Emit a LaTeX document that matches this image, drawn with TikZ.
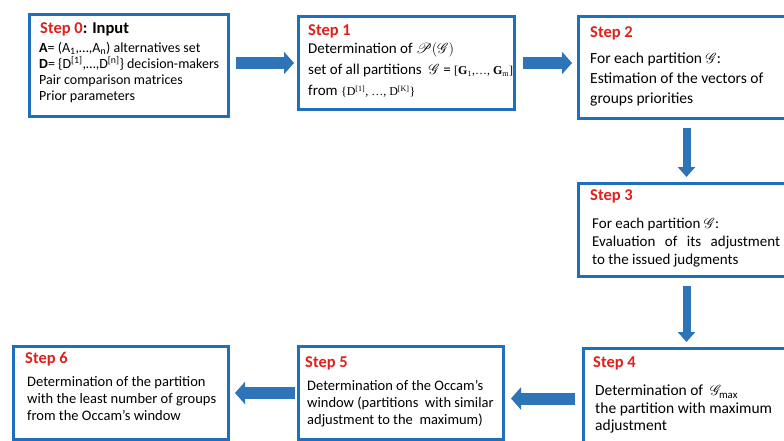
\documentclass[tikz,border=0pt]{standalone}
\usepackage{fontspec}
\setmainfont{Carlito}
\newfontfamily\setfont{Liberation Serif}
\usepackage{mathrsfs}
\usetikzlibrary{arrows.meta,positioning}

\definecolor{boxblue}{HTML}{1F6FBF}
\definecolor{arrowblue}{HTML}{2E74B8}
\definecolor{stepred}{HTML}{E0201B}

\tikzset{
  stepbox/.style={draw=boxblue, line width=3pt, fill=white, anchor=north west, inner sep=0pt},
  steplabel/.style={anchor=north west, inner sep=0pt, font=\fontsize{16.5}{19}\selectfont\bfseries, text=stepred},
  steptext/.style={anchor=north west, align=left, inner sep=0pt},
  flow/.style={draw=arrowblue, line width=12pt, -{Triangle[length=10pt,width=22pt]}},
  flowdown/.style={draw=arrowblue, line width=8pt, -{Triangle[length=10pt,width=17pt]}}
}
\newcommand{\serifset}[1]{{\setfont\fontsize{12}{14}\selectfont #1}}

\begin{document}
\begin{tikzpicture}[x=1pt, y=-1pt]

    % --- Page ---
    \clip (0,0) rectangle (784,441);
    \fill[white] (0,0) rectangle (784,441);

    % --- Step boxes ---
    \node[stepbox, minimum width=199pt, minimum height=102pt] (b0) at (28,13) {};
    \node[stepbox, minimum width=216pt, minimum height=93pt] (b1) at (297,15) {};
    \node[stepbox, minimum width=216pt, minimum height=102pt] (b2) at (577,15) {};
    \node[stepbox, minimum width=216pt, minimum height=93pt] (b3) at (577,182) {};
    \node[stepbox, minimum width=216pt, minimum height=100pt] (b4) at (582,347) {};
    \node[stepbox, minimum width=205pt, minimum height=93pt] (b5) at (297,345) {};
    \node[stepbox, minimum width=215pt, minimum height=93pt] (b6) at (12,345) {};

    % --- Step 0: input ---
    \node[steplabel] (l0) at (40,22) {Step 0\textcolor{black}{: Input}};
    \node[steptext, font=\fontsize{14}{16}\selectfont] (t0) at (39,42)
      {\textbf{A}= (A\textsubscript{1},\ldots,A\textsubscript{n}) alternatives set\\
       \textbf{D}= \{D\textsuperscript{[1]},\ldots,D\textsuperscript{[n]}\} decision-makers\\
       Pair comparison matrices\\
       Prior parameters};

    % --- Step 1 ---
    \node[steplabel] (l1) at (308,24) {Step 1};
    \node[steptext, font=\fontsize{15}{21}\selectfont] (t1) at (308,43)
      {Determination of $\mathscr{P}(\mathscr{G})$\\
       set of all partitions \ $\mathscr{G}$ = \serifset{[\textbf{G}\textsubscript{1},\ldots, \textbf{G}\textsubscript{m}]}\\
       from \serifset{\{D\textsuperscript{[1]}, \ldots, D\textsuperscript{[K]}\}}};

    % --- Step 2 ---
    \node[steplabel] (l2) at (590,26) {Step 2};
    \node[steptext, font=\fontsize{15.5}{20}\selectfont] (t2) at (590,53)
      {For each partition $\mathscr{G}$:\\
       Estimation of the vectors of\\
       groups priorities};

    % --- Step 3 ---
    \node[steplabel] (l3) at (590,189) {Step 3};
    \node[steptext, font=\fontsize{15}{18}\selectfont] (t3) at (592,218)
      {For each partition $\mathscr{G}$:\\
       \makebox[188pt][s]{Evaluation of its adjustment}\\
       to the issued judgments};

    % --- Step 4 ---
    \node[steplabel] (l4) at (593,356) {Step 4};
    \node[steptext, font=\fontsize{15.5}{17.5}\selectfont] (t4) at (595,385)
      {Determination of \ $\mathscr{G}_{\max}$\\
       the partition with maximum\\
       adjustment};

    % --- Step 5 ---
    \node[steplabel] (l5) at (305,356) {Step 5};
    \node[steptext, font=\fontsize{14.5}{17}\selectfont] (t5) at (307,380)
      {Determination of the Occam's\\
       window (partitions \ with similar\\
       adjustment to the \ maximum)};

    % --- Step 6 ---
    \node[steplabel] (l6) at (25,352) {Step 6};
    \node[steptext, font=\fontsize{14.5}{17}\selectfont] (t6) at (27,376)
      {Determination of the partition\\
       with the least number of groups\\
       from the Occam's window};

    % --- Flow arrows ---
    \draw[flow, shorten <=6pt, shorten >=3pt] (b0.east |- b1.west) -- (b1.west);
    \draw[flow, shorten <=7pt, shorten >=5pt] (b1.east) -- (b1.east -| b2.west);
    \draw[flowdown, shorten <=8pt, shorten >=5pt] (b2.south) -- (b2.south |- b3.north);
    \draw[flowdown, shorten <=8pt, shorten >=5pt] (b3.south) -- (b3.south |- b4.north);
    \draw[flow, shorten <=7pt, shorten >=6pt] (b4.west) -- (b4.west -| b5.east);
    \draw[flow, shorten <=2pt, shorten >=5pt] (b5.west) -- (b6.east);

\end{tikzpicture}
\end{document}
